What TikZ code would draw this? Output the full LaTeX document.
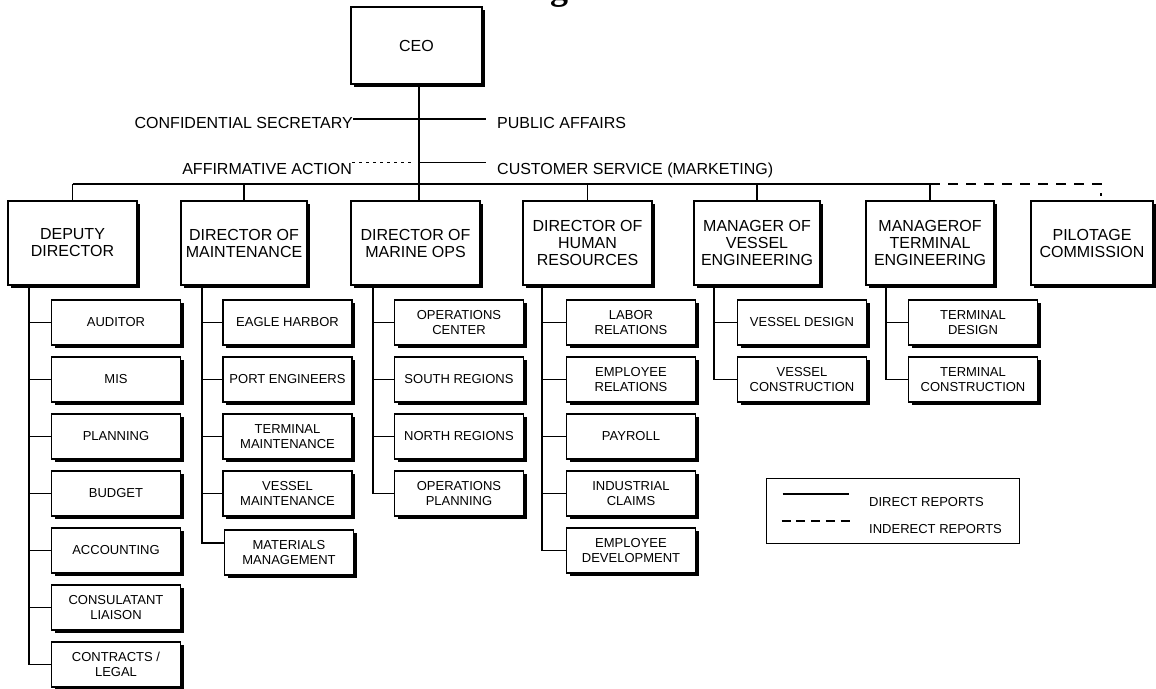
\documentclass[tikz,border=0pt]{standalone}
\usepackage{fontspec}
\setmainfont{Liberation Sans}
\newfontfamily\titlefont{Liberation Serif}
\usetikzlibrary{shadows,calc}

\begin{document}
\begin{tikzpicture}[x=1pt,y=-1pt,
  boxbase/.style={draw, fill=white, line width=1.3pt, inner sep=2pt, align=center,
    drop shadow={shadow xshift=3pt, shadow yshift=-3pt, fill=black, opacity=1}},
  headbox/.style={boxbase, minimum width=128pt, minimum height=84pt,
    font=\fontsize{16}{17}\selectfont},
  unitbox/.style={boxbase, minimum width=129pt, minimum height=45pt,
    font=\fontsize{13}{15}\selectfont},
  sidelabel/.style={inner sep=0pt, font=\fontsize{16}{18}\selectfont},
  legendtext/.style={inner sep=0pt, anchor=base west, font=\fontsize{13}{15}\selectfont},
  link/.style={line width=1.3pt},
  indirect/.style={line width=1.3pt, dash pattern=on 10pt off 8pt},
  legenddash/.style={line width=1.3pt, dash pattern=on 9pt off 5.75pt},
  dotline/.style={line width=1.5pt, dash pattern=on 2.5pt off 4.5pt},
]
\clip (0,0) rectangle (1156,688);

% heading fragment at the top edge
\node[anchor=base, inner sep=0pt, font=\titlefont\bfseries\fontsize{36}{36}\selectfont] (title) at (559,-1) {g};

% chief executive
\node[headbox, minimum width=131pt, minimum height=77pt] (ceo) at (416.5,45.5) {CEO};

% staff offices beside the trunk
\node[sidelabel, anchor=base east] (conf) at (353,128.3) {CONFIDENTIAL SECRETARY};
\node[sidelabel, anchor=base west] (pub)  at (497,128.3) {PUBLIC AFFAIRS};
\node[sidelabel, anchor=base east] (aff)  at (352,174) {AFFIRMATIVE ACTION};
\node[sidelabel, anchor=base west] (cust) at (497,174) {CUSTOMER SERVICE (MARKETING)};

% department heads
\node[headbox, minimum width=129pt] (dep)    at (72.5,243)  {DEPUTY\\DIRECTOR};
\node[headbox, minimum width=126pt] (maint)  at (244,243)   {DIRECTOR OF\\MAINTENANCE};
\node[headbox, minimum width=129pt] (marine) at (415.5,243) {DIRECTOR OF\\MARINE OPS};
\node[headbox, minimum width=129pt] (hr)     at (587.5,243) {DIRECTOR OF\\HUMAN\\RESOURCES};
\node[headbox, minimum width=126pt] (veng)   at (757,243)   {MANAGER OF\\VESSEL\\ENGINEERING};
\node[headbox, minimum width=128pt] (teng)   at (930,243)   {MANAGEROF\\TERMINAL\\ENGINEERING};
\node[headbox, minimum width=122pt] (pil)    at (1092,243)  {PILOTAGE\\COMMISSION};

% deputy director units
\node[unitbox] (dep1) at (116,322.5) {AUDITOR};
\node[unitbox] (dep2) at (116,379.5) {MIS};
\node[unitbox] (dep3) at (116,436.5) {PLANNING};
\node[unitbox] (dep4) at (116,493.5) {BUDGET};
\node[unitbox] (dep5) at (116,550.5) {ACCOUNTING};
\node[unitbox] (dep6) at (116,607.5) {CONSULATANT\\LIAISON};
\node[unitbox] (dep7) at (116,664.5) {CONTRACTS /\\LEGAL};

% maintenance units
\node[unitbox] (mnt1) at (287.5,322.5) {EAGLE HARBOR};
\node[unitbox] (mnt2) at (287.5,379.5) {PORT ENGINEERS};
\node[unitbox] (mnt3) at (287.5,436.5) {TERMINAL\\MAINTENANCE};
\node[unitbox] (mnt4) at (287.5,493.5) {VESSEL\\MAINTENANCE};
\node[unitbox] (mnt5) at (289,552.5)   {MATERIALS\\MANAGEMENT};

% marine operations units
\node[unitbox] (ops1) at (459,322.5) {OPERATIONS\\CENTER};
\node[unitbox] (ops2) at (459,379.5) {SOUTH REGIONS};
\node[unitbox] (ops3) at (459,436.5) {NORTH REGIONS};
\node[unitbox] (ops4) at (459,493.5) {OPERATIONS\\PLANNING};

% human resources units
\node[unitbox] (hr1) at (631,322.5) {LABOR\\RELATIONS};
\node[unitbox] (hr2) at (631,379.5) {EMPLOYEE\\RELATIONS};
\node[unitbox] (hr3) at (631,436.5) {PAYROLL};
\node[unitbox] (hr4) at (631,493.5) {INDUSTRIAL\\CLAIMS};
\node[unitbox] (hr5) at (631,550.5) {EMPLOYEE\\DEVELOPMENT};

% vessel engineering units
\node[unitbox] (ve1) at (802,322.5) {VESSEL DESIGN};
\node[unitbox] (ve2) at (802,379.5) {VESSEL\\CONSTRUCTION};

% terminal engineering units
\node[unitbox] (te1) at (973,322.5) {TERMINAL\\DESIGN};
\node[unitbox] (te2) at (973,379.5) {TERMINAL\\CONSTRUCTION};

% trunk and bus
\coordinate (trunk) at (419,184);
\coordinate (pilX)  at (1101,184);
\draw[link] (ceo.south -| trunk) -- (trunk |- marine.north);
\draw[link] (dep.north |- trunk) -- (teng.north |- trunk);
\foreach \n in {dep,maint,hr,veng,teng}
  \draw[link] (\n.north |- trunk) -- (\n.north);
\draw[indirect] (teng.north |- trunk) -- (pilX) -- ($(pilX |- pil.north)+(0,-4)$);

% staff connectors
\draw[link] ([yshift=-2pt]conf.north east) coordinate (cs) -- ($(pub.west |- cs)+(-11,0)$);
\draw[dotline] (aff.north east) -- ($(trunk |- aff.north east)+(-6,0)$);
\draw[link] (trunk |- aff.north east) -- ($(cust.west |- aff.north east)+(-11,0)$);

% unit connectors
\coordinate (depX) at (29,0);
\coordinate (mntX) at (202,0);
\coordinate (opsX) at (373,0);
\coordinate (hrX)  at (542,0);
\coordinate (veX)  at (714,0);
\coordinate (teX)  at (886,0);

\draw[link] (dep.south -| depX) |- (dep7.west);
\foreach \i in {1,...,6} \draw[link] (depX |- dep\i.west) -- (dep\i.west);

\draw[link] (maint.south -| mntX) |- ([yshift=9.5pt]mnt5.west);
\foreach \i in {1,...,4} \draw[link] (mntX |- mnt\i.west) -- (mnt\i.west);

\draw[link] (marine.south -| opsX) |- (ops4.west);
\foreach \i in {1,...,3} \draw[link] (opsX |- ops\i.west) -- (ops\i.west);

\draw[link] (hr.south -| hrX) |- (hr5.west);
\foreach \i in {1,...,4} \draw[link] (hrX |- hr\i.west) -- (hr\i.west);

\draw[link] (veng.south -| veX) |- (ve2.west);
\draw[link] (veX |- ve1.west) -- (ve1.west);

\draw[link] (teng.south -| teX) |- (te2.west);
\draw[link] (teX |- te1.west) -- (te1.west);

% legend
\node[draw, line width=1pt, minimum width=253pt, minimum height=65pt, inner sep=0pt] (legend) at (892.5,510.5) {};
\draw[link] ($(legend.west)+(17,-16.5)$) -- ++(66,0);
\draw[legenddash] ($(legend.west)+(16,10.5)$) -- ++(68,0);
\node[legendtext] (lgdirect)   at (869,506) {DIRECT REPORTS};
\node[legendtext] (lgindirect) at (869,533) {INDERECT REPORTS};
\end{tikzpicture}
\end{document}
